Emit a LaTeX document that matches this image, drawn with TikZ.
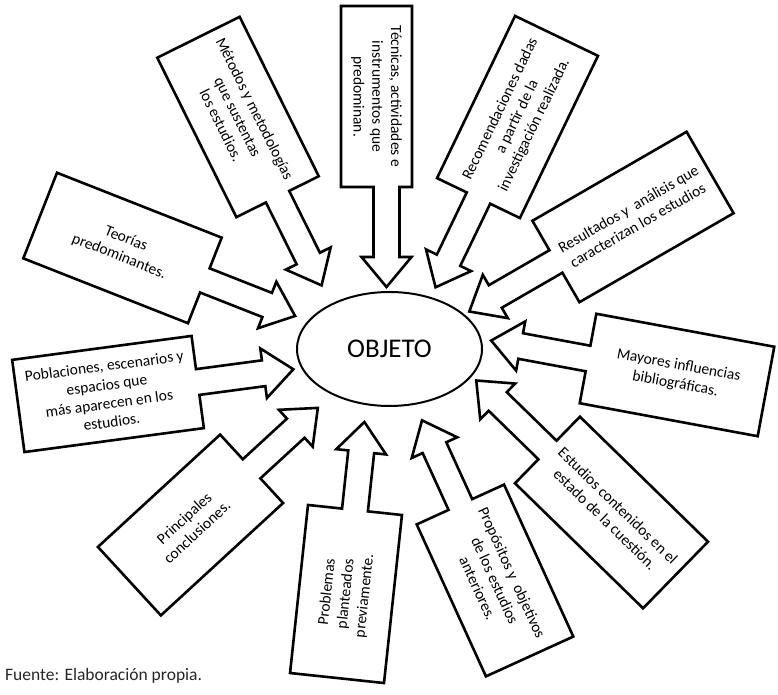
\documentclass[tikz,border=0pt]{standalone}
\usepackage{fontspec}
\setmainfont{Carlito}
\usetikzlibrary{shapes.geometric}
\tikzset{
  callbox/.style={draw=black, line width=2.6pt, fill=white, line join=miter},
  calltext/.style={align=center, font=\fontsize{15.5}{18.8}\selectfont, inner sep=0pt},
  centre/.style={ellipse, draw=black, line width=2pt, fill=white, minimum width=185pt, minimum height=114pt, inner sep=0pt, font=\fontsize{27}{32}\selectfont},
}
% #1 name, #2 cx, #3 cy (pixels from top), #4 pointing angle, #5 box length, #6 box width, #7 tip distance, #8 shaft offset, #9 text
\newcommand\callout[9]{%
  \pgfmathsetmacro\Lh{#5/2}\pgfmathsetmacro\Wh{#6/2}%
  \pgfmathsetmacro\Tr{cos(#4)>-0.01 ? #4 : #4+180}%
  \begin{scope}[shift={(#2,695-#3)}, rotate=#4]
    \draw[callbox] (-\Lh,-\Wh) -- (\Lh,-\Wh) -- (\Lh,#8-13) -- (#7-30,#8-13) -- (#7-30,#8-25)
      -- (#7,#8) -- (#7-30,#8+25) -- (#7-30,#8+13) -- (\Lh,#8+13) -- (\Lh,\Wh) -- (-\Lh,\Wh) -- cycle;
    \node[calltext, rotate=\Tr] (#1) at (0,0) {#9};
  \end{scope}}
\begin{document}
\begin{tikzpicture}[x=1pt,y=1pt]
\useasboundingbox (0,0) rectangle (778,695);
\fill[white] (0,0) rectangle (778,695);
\callout{metodos}{238}{117}{-63.6}{178}{92}{188}{0}{Métodos y metodologías\\que sustentas\\los estudios.}
\callout{tecnicas}{376.5}{96.5}{-90}{181}{71}{190.5}{10}{Técnicas, actividades e\\instrumentos que\\predominan.}
\callout{recomendaciones}{517.5}{117}{-115.7}{180}{92}{189}{0}{Recomendaciones dadas\\a partir de la\\investigación realizada.}
\callout{resultados}{633}{217}{-150}{178}{94}{189}{0}{Resultados y\ \ análisis que\\caracterizan los estudios}
\callout{mayores}{677}{375}{169.5}{181}{91}{189}{0}{Mayores influencias\\bibliográficas.}
\callout{estudios}{611.5}{512.5}{135.7}{179}{93}{189}{0}{Estudios contenidos en el\\estado de la cuestión.}
\callout{propositos}{495}{580.5}{114.5}{167}{96}{176}{0}{Propósitos y\ \ objetivos\\de los estudios\\anteriores.}
\callout{problemas}{346}{594}{83.9}{169}{94.5}{173}{0}{Problemas\\planteados\\previamente.}
\callout{principales}{190.5}{525}{42.6}{166}{93}{173}{0}{Principales\\conclusiones.}
\callout{poblaciones}{108}{394}{7.6}{181}{93}{187}{0}{Poblaciones, escenarios y\\espacios que\\más aparecen en los\\estudios.}
\callout{teorias}{122.5}{248}{-21.5}{177}{92}{185.5}{0}{Teorías\\predominantes.}
\node[centre] (objeto) at (389.5,346) {OBJETO};
\node[anchor=base west, inner sep=0pt, font=\fontsize{17.5}{20}\selectfont, text=black!85] (fuente) at (5,14) {Fuente: Elaboración propia.};
\end{tikzpicture}
\end{document}
